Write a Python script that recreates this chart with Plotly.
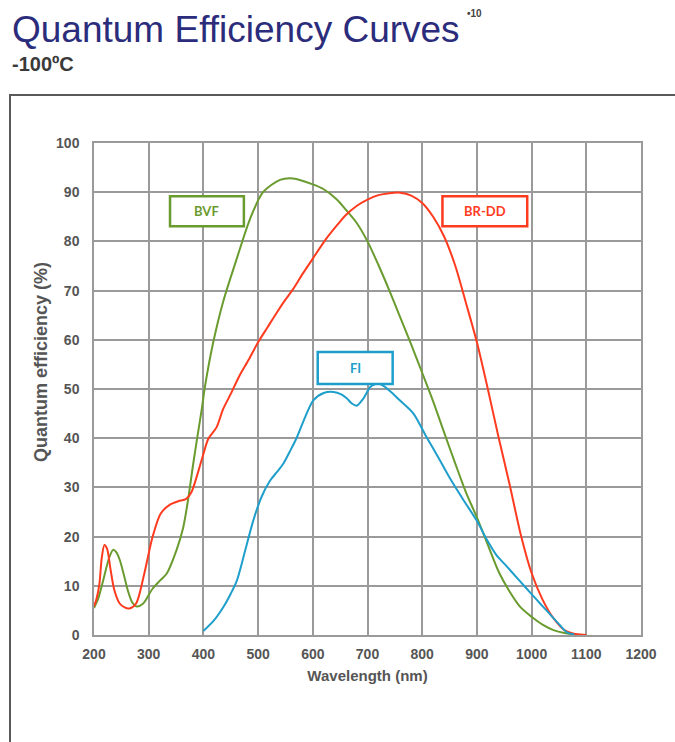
import plotly.graph_objects as go

# Quantum efficiency at -100 °C, sampled along each sensor curve (nm, %)
bvf_wl = [200, 208, 217, 228, 235, 241, 247, 254, 262, 270, 278, 290, 307, 320, 333, 351, 363, 372, 381, 390,
          397, 403, 418, 436, 461, 485, 509, 540, 564, 600, 620, 643, 660, 680, 700, 720, 740, 760, 780, 800,
          820, 840, 860, 880, 900, 920, 940, 960, 980, 1000, 1020, 1040, 1060, 1080, 1100]
bvf_qe = [5.5, 7.5, 11.2, 15.8, 17.3, 16.8, 15.3, 12.5, 9.0, 6.6, 5.8, 6.4, 9.4, 11.0, 12.5, 17.3, 21.8, 27.5, 34.5, 41.0,
          45.9, 50.6, 59.5, 67.7, 76.5, 84.5, 90.0, 92.5, 92.8, 91.6, 90.6, 88.6, 86.5, 83.8, 80.0, 75.2, 70.0, 64.5, 59.0, 53.3,
          47.5, 41.2, 35.0, 29.0, 23.9, 18.3, 12.8, 8.8, 5.6, 3.7, 2.1, 1.0, 0.4, 0.1, 0.0]

brdd_wl = [200, 205, 210, 214, 219, 224, 230, 237, 247, 256, 265, 277, 292, 307, 322, 339, 354, 368, 378, 390,
           400, 409, 424, 436, 450, 466, 483, 500, 517, 534, 549, 564, 582, 600, 625, 649, 660, 680, 700, 720,
           740, 760, 780, 800, 820, 840, 860, 880, 900, 920, 940, 960, 980, 1000, 1020, 1040, 1060, 1080, 1100]
brdd_qe = [5.8, 7.5, 10.5, 15.5, 18.3, 17.5, 13.5, 9.2, 6.4, 5.6, 5.4, 6.4, 12.5, 19.9, 24.7, 26.5, 27.2, 27.6, 29.0, 33.0,
           36.8, 39.9, 42.2, 45.9, 49.0, 52.7, 56.0, 59.5, 62.5, 65.5, 68.0, 70.3, 73.5, 76.5, 80.6, 83.9, 85.3, 87.2, 88.5, 89.4,
           89.8, 89.9, 89.3, 87.8, 85.0, 81.0, 75.2, 67.5, 59.5, 50.0, 40.0, 30.5, 20.5, 12.6, 7.2, 3.4, 1.0, 0.2, 0.0]

fi_wl = [400, 418, 436, 450, 461, 476, 491, 506, 522, 535, 546, 558, 571, 586, 601, 620, 638, 652, 662, 672, 680,
         692, 705, 712, 720, 730, 745, 759, 784, 808, 830, 851, 875, 900, 918, 936, 950, 975, 1000, 1018, 1033, 1050, 1064, 1078]
fi_qe = [0.8, 2.8, 5.6, 8.4, 11.0, 17.0, 23.2, 28.0, 31.4, 33.2, 34.8, 37.3, 40.2, 44.3, 47.7, 49.2, 49.4, 48.9, 48.1, 47.0, 46.6,
         48.0, 50.4, 50.9, 51.1, 50.6, 49.2, 47.7, 45.0, 40.2, 36.0, 31.8, 27.5, 23.2, 19.4, 16.2, 14.5, 11.4, 8.3, 6.1, 4.3, 2.2, 0.6, 0.1]

series_names = ["BVF", "BR-DD", "FI"]
series_colors = ["#6A9B2F", "#FF3B1F", "#1E9FCB"]

# Label boxes: (x0, x1, y0, y1) in wavelength / % units
label_boxes = [(339, 474, 83.1, 89.2), (837, 992, 83.1, 89.2), (609, 746, 51.0, 57.5)]

x_ticks = [200, 300, 400, 500, 600, 700, 800, 900, 1000, 1100, 1200]
y_ticks = [0, 10, 20, 30, 40, 50, 60, 70, 80, 90, 100]

fig = go.Figure()
for wl, qe, name, color in zip([bvf_wl, brdd_wl, fi_wl], [bvf_qe, brdd_qe, fi_qe], series_names, series_colors):
    fig.add_trace(go.Scatter(x=wl, y=qe, mode="lines", name=name,
                             line=dict(color=color, width=2, shape="spline", smoothing=0.8),
                             showlegend=False, hoverinfo="x+y+name"))

shapes = []
annotations = []
for (x0, x1, y0, y1), name, color in zip(label_boxes, series_names, series_colors):
    shapes.append(dict(type="rect", xref="x", yref="y", x0=x0, x1=x1, y0=y0, y1=y1,
                       line=dict(color=color, width=2.5), fillcolor="white", layer="above"))
    annotations.append(dict(x=(x0 + x1) / 2, y=(y0 + y1) / 2, xref="x", yref="y", text=f"<b>{name}</b>",
                            showarrow=False, font=dict(family="Lato", size=13, color=color)))

L, R, T, B = 94, 34, 143, 107
W, H = 675, 742
pw, ph = W - L - R, H - T - B


def px(x):
    return (x - L) / pw


def py(y):
    return (H - B - y) / ph


# Outer frame around the chart panel
shapes.append(dict(type="rect", xref="paper", yref="paper", x0=px(10), x1=px(W + 20), y0=py(H + 20), y1=py(95),
                   line=dict(color="#5A5A5A", width=2), fillcolor="rgba(0,0,0,0)", layer="below"))

# Headings and the vertical axis title
annotations += [
    dict(x=px(10), y=py(7), xref="paper", yref="paper", text="Quantum Efficiency Curves", showarrow=False,
         xanchor="left", yanchor="top", font=dict(family="Liberation Sans", size=37, color="#2B2C7B")),
    dict(x=px(465), y=py(6), xref="paper", yref="paper", text="<b>•10</b>", showarrow=False,
         xanchor="left", yanchor="top", font=dict(family="Liberation Sans", size=10, color="#444444")),
    dict(x=px(10), y=py(51), xref="paper", yref="paper", text="<b>-100ºC</b>", showarrow=False,
         xanchor="left", yanchor="top", font=dict(family="Liberation Sans", size=20, color="#3A3A3A")),
    dict(x=px(41), y=py(362), xref="paper", yref="paper", text="<b>Quantum efficiency (%)</b>", showarrow=False,
         textangle=-90, xanchor="center", yanchor="middle",
         font=dict(family="Liberation Sans", size=18, color="#555555")),
]

fig.update_layout(
    width=W, height=H,
    margin=dict(l=L, r=R, t=T, b=B),
    paper_bgcolor="white", plot_bgcolor="white",
    shapes=shapes, annotations=annotations,
    xaxis=dict(range=[200, 1200], tickvals=x_ticks, ticktext=[f"<b>{v}</b>" for v in x_ticks],
               showgrid=True, gridcolor="#9A9A9A", gridwidth=1.5, zeroline=False,
               showline=True, linecolor="#9A9A9A", linewidth=1.5, mirror=True, ticks="",
               ticklabelstandoff=5,
               tickfont=dict(family="Liberation Sans", size=14, color="#555555"),
               title=dict(text="<b>Wavelength (nm)</b>", standoff=10,
                          font=dict(family="Liberation Sans", size=15, color="#555555"))),
    yaxis=dict(range=[0, 100], tickvals=y_ticks, ticktext=[f"<b>{v}</b>" for v in y_ticks],
               showgrid=True, gridcolor="#9A9A9A", gridwidth=1.5, zeroline=False,
               showline=True, linecolor="#9A9A9A", linewidth=1.5, mirror=True, ticks="",
               ticklabelstandoff=10,
               tickfont=dict(family="Liberation Sans", size=14, color="#555555")),
)

fig.write_html("out.html")
